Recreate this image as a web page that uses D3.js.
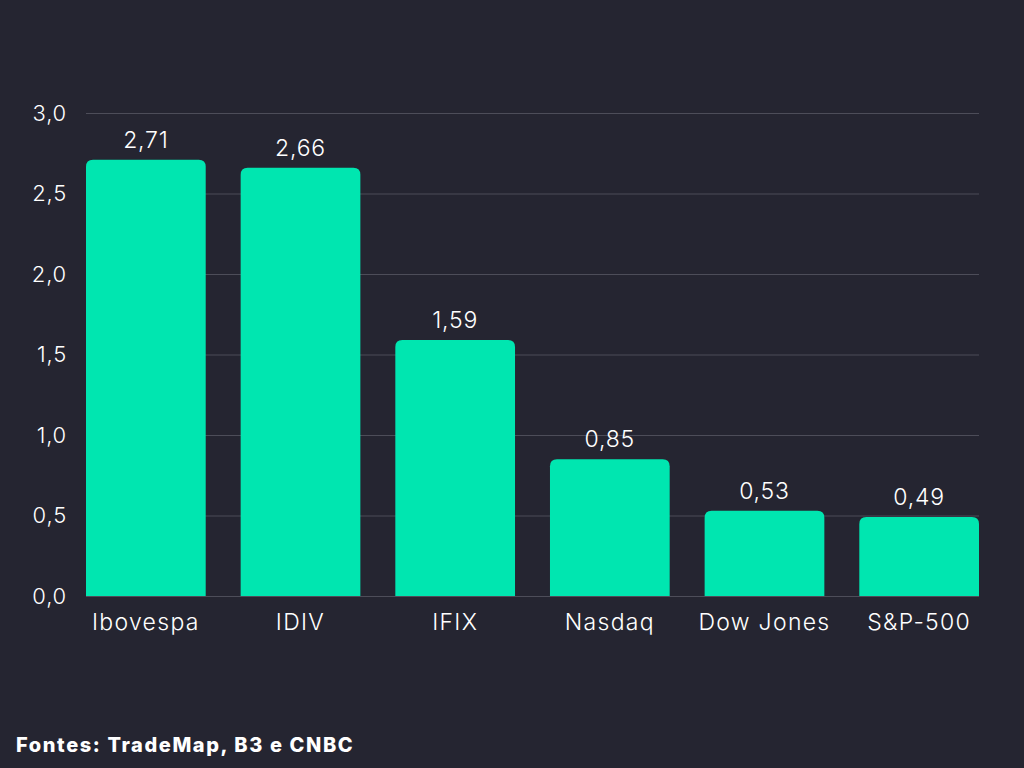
<!DOCTYPE html>
<html>
<head>
<meta charset="utf-8">
<script src="https://cdn.jsdelivr.net/npm/d3@7"></script>
<style>
  html, body { margin: 0; padding: 0; background: #252531; }
  svg { display: block; }
  text { font-family: "Inter", "Open Sans", sans-serif; fill: #ffffff; font-weight: 300; }
  text.source { font-weight: 800; }
</style>
</head>
<body>
<svg id="chart"></svg>
<script>
var categories = ["Ibovespa", "IDIV", "IFIX", "Nasdaq", "Dow Jones", "S&P-500"];
var values = [2.71, 2.66, 1.59, 0.85, 0.53, 0.49];
var tickValues = [0, 0.5, 1.0, 1.5, 2.0, 2.5, 3.0];
var source = "Fontes: TradeMap, B3 e CNBC";

var width = 1024, height = 768;
var plotLeft = 86, plotRight = 979, plotTop = 113, plotBottom = 596;

var svg = d3.select("#chart")
    .attr("width", width)
    .attr("height", height);

svg.append("rect")
    .attr("width", width)
    .attr("height", height)
    .attr("fill", "#252531");

var x = d3.scaleBand()
    .domain(categories)
    .range([plotLeft, plotRight])
    .paddingInner(0.226)
    .paddingOuter(0);

var y = d3.scaleLinear()
    .domain([0, 3])
    .range([plotBottom, plotTop]);

var fmt = function(d) { return d3.format(".1f")(d).replace(".", ","); };

// gridlines
svg.append("g")
    .selectAll("line")
    .data(tickValues)
    .join("line")
    .attr("x1", plotLeft)
    .attr("x2", plotRight)
    .attr("y1", function(d) { return y(d) + 0.5; })
    .attr("y2", function(d) { return y(d) + 0.5; })
    .attr("stroke", "#4d4d59")
    .attr("stroke-width", 1);

// y tick labels
svg.append("g")
    .selectAll("text")
    .data(tickValues)
    .join("text")
    .attr("x", 67)
    .attr("y", function(d) { return y(d); })
    .attr("dy", "0.36em")
    .attr("text-anchor", "end")
    .attr("font-size", 22)
    .attr("letter-spacing", 0.8)
    .text(fmt);

// bars with rounded top corners
var r = 7;
function barPath(d, i) {
  var x0 = x(categories[i]), w = x.bandwidth();
  var y0 = y(d), y1 = y(0);
  return "M" + x0 + "," + y1 +
    "V" + (y0 + r) +
    "Q" + x0 + "," + y0 + " " + (x0 + r) + "," + y0 +
    "H" + (x0 + w - r) +
    "Q" + (x0 + w) + "," + y0 + " " + (x0 + w) + "," + (y0 + r) +
    "V" + y1 + "Z";
}

svg.append("g")
    .selectAll("path")
    .data(values)
    .join("path")
    .attr("d", barPath)
    .attr("fill", "#00e6b0");

// value labels
svg.append("g")
    .selectAll("text")
    .data(values)
    .join("text")
    .attr("x", function(d, i) { return x(categories[i]) + x.bandwidth() / 2; })
    .attr("y", function(d) { return y(d) - 12; })
    .attr("text-anchor", "middle")
    .attr("font-size", 23)
    .attr("letter-spacing", 0.8)
    .text(function(d) { return d3.format(".2f")(d).replace(".", ","); });

// category labels
svg.append("g")
    .selectAll("text")
    .data(categories)
    .join("text")
    .attr("x", function(d) { return x(d) + x.bandwidth() / 2; })
    .attr("y", 630)
    .attr("text-anchor", "middle")
    .attr("font-size", 23)
    .attr("letter-spacing", 1.3)
    .text(function(d) { return d; });

svg.append("text")
    .attr("class", "source")
    .attr("x", 16)
    .attr("y", 752)
    .attr("font-size", 20)
    .attr("letter-spacing", 1.6)
    .text(source);
</script>
</body>
</html>
